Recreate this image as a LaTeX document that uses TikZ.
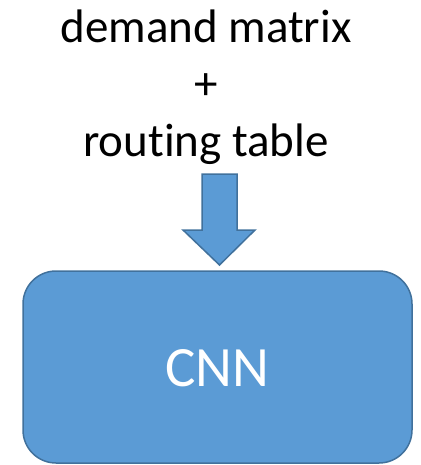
\documentclass[tikz,border=0pt]{standalone}
\usepackage{fontspec}
\setmainfont[Ligatures=NoCommon]{Carlito}
\definecolor{boxfill}{HTML}{5B9BD5}
\definecolor{boxline}{HTML}{41719C}
\begin{document}
\begin{tikzpicture}[x=1pt,y=-1pt,
  caption/.style={anchor=base,inner sep=0pt,font=\fontsize{47}{47}\selectfont},
  block/.style={fill=boxfill,draw=boxline,line width=1.5pt}]
\useasboundingbox (0,0) rectangle (420,465);
% input captions
\node[caption] (l1) at (206,43) {demand matrix};
\node[caption] (l2) at (206,100) {+};
\node[caption] (l3) at (206,157) {routing table};
% block arrow into the network
\draw[block,line join=miter] (202,174) -- (237,174) -- (237,230) -- (255,230)
  -- (219.5,265) -- (183,230) -- (202,230) -- cycle;
% network box
\draw[block,rounded corners=33pt] (23,271) rectangle (412,463);
\node[anchor=base,inner sep=0pt,text=white,font=\fontsize{57}{57}\selectfont] (cnn) at (217,386) {CNN};
\end{tikzpicture}
\end{document}
